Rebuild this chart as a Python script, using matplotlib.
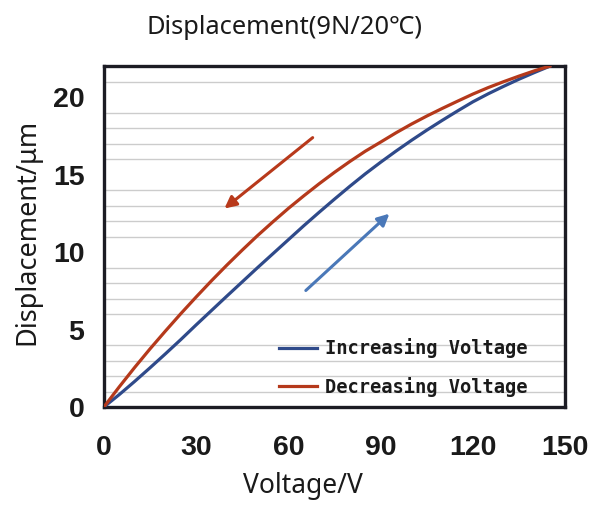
import matplotlib.pyplot as plt
import numpy as np

# data (every 5 V)
voltage = [0, 5, 10, 15, 20, 25, 30, 35, 40, 45, 50, 55, 60, 65, 70,
           75, 80, 85, 90, 95, 100, 105, 110, 115, 120, 125, 130, 135, 140, 145]
disp_increasing = [0, 0.8, 1.65, 2.53, 3.43, 4.35, 5.3, 6.23, 7.16, 8.08, 9.0, 9.9, 10.8,
                   11.7, 12.57, 13.42, 14.25, 15.05, 15.8, 16.52, 17.21, 17.87, 18.5, 19.11,
                   19.7, 20.22, 20.7, 21.16, 21.59, 22.0]
disp_decreasing = [0, 1.3, 2.55, 3.75, 4.9, 6.02, 7.1, 8.15, 9.16, 10.13, 11.07, 11.96, 12.82,
                   13.63, 14.41, 15.15, 15.85, 16.51, 17.1, 17.7, 18.26, 18.78, 19.27, 19.74,
                   20.2, 20.62, 21.0, 21.36, 21.7, 22.0]
x_ticks = [0, 30, 60, 90, 120, 150]
y_ticks = [0, 5, 10, 15, 20]

# direction arrows (tail, head) in data units
arrow_down = [(68.6, 17.5), (38.5, 12.7)]
arrow_up = [(65.0, 7.4), (93.5, 12.6)]

blue = "#2F4A8A"
red = "#B5391B"
txt_font = ["Noto Sans", "Noto Sans CJK SC", "DejaVu Sans"]

fig = plt.figure(figsize=(5.9, 5.05), dpi=100)
ax = fig.add_axes([0.176, 0.194, 0.782, 0.675])

ax.plot(voltage, disp_increasing, color=blue, lw=2.3, label="Increasing Voltage",
        zorder=3, solid_joinstyle="round")
ax.plot(voltage, disp_decreasing, color=red, lw=2.3, label="Decreasing Voltage",
        zorder=3, solid_joinstyle="round")

ax.annotate("", xy=arrow_down[1], xytext=arrow_down[0],
            arrowprops=dict(arrowstyle="-|>,head_length=0.7,head_width=0.35", color="#B8391B", lw=2.2))
ax.annotate("", xy=arrow_up[1], xytext=arrow_up[0],
            arrowprops=dict(arrowstyle="-|>,head_length=0.7,head_width=0.35", color="#4A78B8", lw=2.2))

ax.set_xlim(0, 150)
ax.set_ylim(0, 22)
ax.set_xticks(x_ticks)
ax.set_yticks(y_ticks)
ax.set_xticks(np.arange(0, 151, 30), minor=True)
ax.set_yticks(np.arange(0, 23, 1), minor=True)
ax.grid(True, which="minor", color="#cccccc", lw=1.0)
ax.set_axisbelow(True)
ax.tick_params(which="both", length=0)
ax.tick_params(axis="x", pad=20)
ax.tick_params(axis="y", pad=14)
for lab in ax.get_xticklabels() + ax.get_yticklabels():
    lab.set_fontfamily("Liberation Sans")
    lab.set_fontweight("bold")
    lab.set_fontsize(20.5)
    lab.set_color("#1a1a1a")

for s in ax.spines.values():
    s.set_linewidth(2.4)
    s.set_color("#1c1c24")

leg = ax.legend(loc="lower right", bbox_to_anchor=(0.955, -0.02), frameon=False,
                prop={"family": "DejaVu Sans Mono", "weight": "bold", "size": 13.5},
                handlelength=2.0, handletextpad=0.45, labelspacing=1.0)
for t in leg.get_texts():
    t.set_color("#1a1a1a")

fig.text(0.482, 0.945, "Displacement(9N/20℃)", ha="center", va="center",
         fontsize=18.3, family=txt_font, color="#1a1a1a")
fig.text(0.513, 0.037, "Voltage/V", ha="center", va="center",
         fontsize=19, family=txt_font, color="#1a1a1a")
fig.text(0.047, 0.54, "Displacement/μm", ha="center", va="center", rotation=90,
         fontsize=19.5, family=txt_font, color="#1a1a1a")

plt.savefig("out.png", dpi=100)
